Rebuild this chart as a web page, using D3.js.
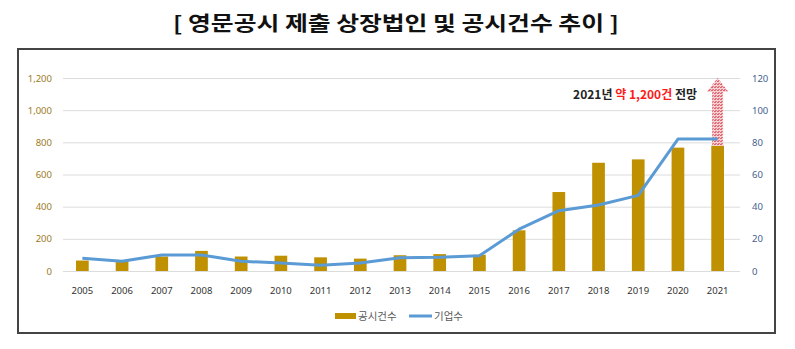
<!DOCTYPE html>
<html><head><meta charset="utf-8">
<script src="https://cdn.jsdelivr.net/npm/d3@7"></script>
<style>html,body{margin:0;padding:0;background:#fff}svg{display:block}</style>
</head><body>
<script>
const years = ["2005","2006","2007","2008","2009","2010","2011","2012","2013","2014","2015","2016","2017","2018","2019","2020","2021"];
const filings = [65,65,90,125,90,95,85,77,98,105,101,253,491,673,694,767,779];
const companies = [8,6,10,10,6,5,3.5,5,8.3,8.5,9.5,26,37.5,41,47,82,82];
const leftTicks = [0,200,400,600,800,1000,1200];
const rightTicks = [0,20,40,60,80,100,120];
const forecast2021 = 1200;
const titleText = "[ 영문공시 제출 상장법인 및 공시건수 추이 ]";
const legendLabels = ["공시건수","기업수"];

const W = 795, H = 349;
const svg = d3.select("body").append("svg").attr("width", W).attr("height", H);
const font = "'Noto Sans CJK KR','Noto Sans',sans-serif";

// title
svg.append("text").attr("x", 396).attr("y", 31).attr("text-anchor","middle")
  .attr("font-family", font).attr("font-weight", "bold").attr("font-size", 20)
  .attr("textLength", 446).attr("lengthAdjust","spacingAndGlyphs")
  .attr("fill","#111").text(titleText);

// frame
svg.append("rect").attr("x",18).attr("y",49).attr("width",757).attr("height",284)
  .attr("fill","none").attr("stroke","#444").attr("stroke-width",2);

const x = d3.scaleBand().domain(years).range([62.5, 737.5]).paddingInner(0.68).paddingOuter(0.34);
const yL = d3.scaleLinear().domain([0,1200]).range([271,78]);
const yR = d3.scaleLinear().domain([0,120]).range([271,78]);

// pattern
const defs = svg.append("defs");
const pat = defs.append("pattern").attr("id","hatch").attr("patternUnits","userSpaceOnUse").attr("width",3).attr("height",3);
pat.append("rect").attr("width",3).attr("height",3).attr("fill","#f7d0d3");
pat.append("rect").attr("width",2).attr("height",1).attr("fill","#e06570");
pat.append("rect").attr("x",1).attr("y",2).attr("width",2).attr("height",1).attr("fill","#e47a83");

// gridlines
svg.append("g").selectAll("line").data(leftTicks).join("line")
  .attr("x1",63).attr("x2",740).attr("y1",d=>yL(d)+0.5).attr("y2",d=>yL(d)+0.5)
  .attr("stroke","#dcdcdc").attr("stroke-width",1);

// left axis
const axL = svg.append("g").attr("transform","translate(56,0)")
  .call(d3.axisLeft(yL).tickValues(leftTicks).tickSize(0).tickPadding(4).tickFormat(d3.format(",")));
axL.select(".domain").remove();
axL.selectAll("text").attr("font-family","'Noto Sans',sans-serif").attr("font-size",9.5).attr("fill","#9a7a1e");

// right axis
const axR = svg.append("g").attr("transform","translate(748,0)")
  .call(d3.axisRight(yR).tickValues(rightTicks).tickSize(0).tickPadding(4));
axR.select(".domain").remove();
axR.selectAll("text").attr("font-family","'Noto Sans',sans-serif").attr("font-size",9.5).attr("fill","#44618d");

// x axis
const axX = svg.append("g").attr("transform","translate(0,281)")
  .call(d3.axisBottom(x).tickSize(0).tickPadding(6));
axX.select(".domain").remove();
axX.selectAll("text").attr("font-family","'Noto Sans',sans-serif").attr("font-size",9.5).attr("fill","#333");

// bars
svg.append("g").selectAll("rect").data(years).join("rect")
  .attr("x", d=>x(d)).attr("width", x.bandwidth())
  .attr("y", (d,i)=>yL(filings[i])).attr("height",(d,i)=>yL(0)-yL(filings[i]))
  .attr("fill","#bf9000");

// forecast arrow
const lastY = years[years.length-1];
const cx = x(lastY) + x.bandwidth()/2;
const sw = x.bandwidth()*0.86/2, hw = 11, hh = 14;
const yBase = yL(filings[filings.length-1]), yTip = yL(forecast2021);
const arrowPts = [[cx-sw,yBase],[cx-sw,yTip+hh],[cx-hw,yTip+hh],[cx,yTip],[cx+hw,yTip+hh],[cx+sw,yTip+hh],[cx+sw,yBase]];
svg.append("path").attr("d", d3.line()(arrowPts)+"Z").attr("fill","url(#hatch)");

// line
svg.append("path").datum(companies)
  .attr("d", d3.line().x((d,i)=>x(years[i])+x.bandwidth()/2).y(d=>yR(d)))
  .attr("fill","none").attr("stroke","#5b9bd5").attr("stroke-width",3).attr("stroke-linejoin","round");

// annotation
const ann = svg.append("text").attr("x",697).attr("y",99).attr("text-anchor","end")
  .attr("font-family",font).attr("font-weight","bold").attr("font-size",12).attr("fill","#222");
ann.append("tspan").text("2021년 ");
ann.append("tspan").attr("fill","#ff1a1a").text("약 1,200건");
ann.append("tspan").text(" 전망");

// legend
const lg = svg.append("g").attr("font-family",font).attr("font-size",10.5).attr("fill","#595959");
lg.append("rect").attr("x",335).attr("y",313).attr("width",21).attr("height",6).attr("fill","#bf9000");
lg.append("text").attr("x",358).attr("y",320).text(legendLabels[0]);
lg.append("line").attr("x1",409).attr("x2",432).attr("y1",316).attr("y2",316).attr("stroke","#5b9bd5").attr("stroke-width",3);
lg.append("text").attr("x",434).attr("y",320).text(legendLabels[1]);
</script>
</body></html>
